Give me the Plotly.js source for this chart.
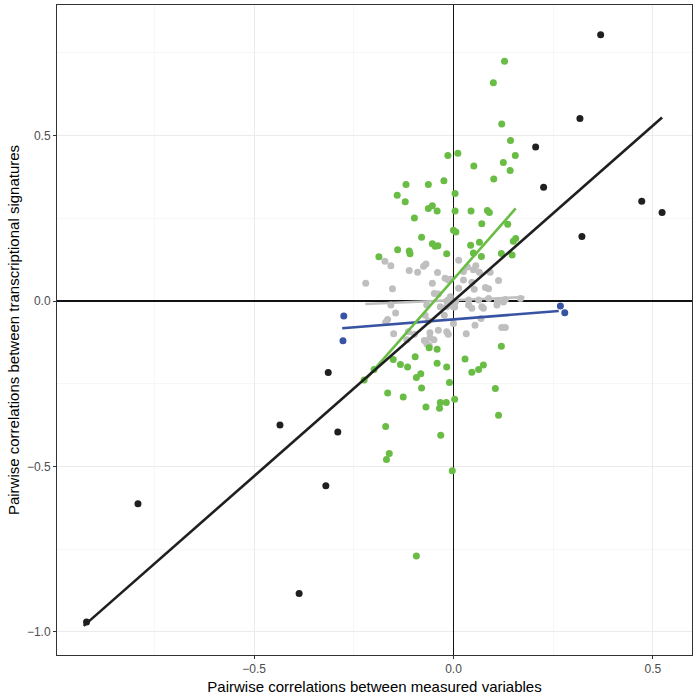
<!DOCTYPE html>
<html>
<head>
<meta charset="utf-8">
<script src="https://cdn.plot.ly/plotly-3.0.1.min.js"></script>
<style>html,body{margin:0;padding:0;background:#fff;}#chart{width:700px;height:700px;}</style>
</head>
<body>
<div id="chart"></div>
<script>
// ---- data ----
const blackX = [-0.92, -0.791, -0.387, -0.435, -0.32, -0.29, -0.314, 0.369, 0.317, 0.206, 0.226, 0.322, 0.472, 0.523];
const blackY = [-0.97, -0.613, -0.884, -0.375, -0.558, -0.396, -0.216, 0.805, 0.552, 0.466, 0.344, 0.195, 0.302, 0.268];

const blueX = [-0.275, -0.277, 0.268, 0.279];
const blueY = [-0.045, -0.12, -0.015, -0.035];

const greenX = [0.128, 0.100, 0.121, 0.143, 0.155, 0.125, 0.142, 0.051, 0.011, -0.014, 0.101, -0.119, -0.063, -0.024,
  0.004, -0.141, -0.121, -0.063, -0.053, -0.041, 0.004, 0.044, 0.085, 0.090, -0.098, 0.071, 0.136, 0.000, 0.006, -0.080,
  0.065, 0.150, 0.156, -0.053, -0.046, -0.039, 0.043, -0.140, -0.111, -0.109, -0.017, 0.050, 0.070, 0.120, 0.147, -0.187,
  0.120, -0.061, -0.041, -0.096, 0.029, -0.151, -0.133, -0.115, -0.041, -0.017, -0.199, 0.075, 0.063, 0.046, -0.082,
  -0.093, -0.224, -0.010, -0.080, 0.105, -0.165, -0.126, 0.003, -0.033, -0.018, -0.069, -0.035, 0.113, -0.170, -0.032,
  -0.161, -0.168, -0.003, -0.093];
const greenY = [0.725, 0.660, 0.535, 0.485, 0.440, 0.419, 0.395, 0.408, 0.447, 0.440, 0.369, 0.352, 0.352, 0.364,
  0.325, 0.320, 0.300, 0.280, 0.288, 0.272, 0.272, 0.272, 0.274, 0.268, 0.251, 0.234, 0.232, 0.214, 0.209, 0.193,
  0.178, 0.181, 0.189, 0.173, 0.166, 0.167, 0.169, 0.155, 0.151, 0.143, 0.143, 0.145, 0.135, 0.144, 0.139, 0.134,
  -0.137, -0.141, -0.146, -0.168, -0.175, -0.177, -0.192, -0.199, -0.188, -0.199, -0.207, -0.193, -0.207, -0.215, -0.220,
  -0.231, -0.239, -0.246, -0.263, -0.264, -0.278, -0.290, -0.297, -0.307, -0.307, -0.320, -0.324, -0.345, -0.379, -0.406,
  -0.461, -0.479, -0.513, -0.771];

const greyX = [-0.172, -0.157, -0.220, -0.153, -0.111, -0.090, -0.075, -0.069, -0.040, -0.053, -0.021, -0.013, -0.048,
  0.013, 0.035, 0.025, 0.056, 0.050, 0.065, 0.092, -0.008, 0.025, 0.046, 0.113, 0.013, 0.052, 0.080, 0.088,
  -0.008, -0.017, 0.005, 0.038, 0.063, 0.088, 0.110, 0.125, 0.130, 0.168, 0.071, 0.109, -0.017,
  -0.157, -0.145, -0.165, -0.170, -0.150, -0.113, -0.098, -0.117, -0.067, -0.063, -0.071, -0.033, -0.023, -0.059,
  -0.038, -0.017, -0.073, -0.059, -0.049, -0.067, -0.061, 0.000, -0.013, 0.032, 0.054, 0.069, 0.075, 0.046, 0.038,
  0.000, 0.121, 0.130, -0.011, 0.003, -0.038];
const greyY = [0.120, 0.107, 0.054, 0.037, 0.092, 0.087, 0.105, 0.112, 0.086, 0.054, 0.069, 0.064, 0.023,
  0.123, 0.103, 0.089, 0.107, 0.095, 0.087, 0.087, 0.066, 0.064, 0.057, 0.062, 0.039, 0.036, 0.041, 0.037,
  0.013, 0.000, -0.002, 0.003, 0.003, 0.008, 0.000, -0.003, 0.005, 0.008, -0.017, -0.012, -0.017,
  -0.012, -0.036, -0.056, -0.064, -0.099, -0.093, -0.100, -0.117, -0.012, -0.060, -0.043, -0.017, -0.043, -0.096,
  -0.088, -0.093, -0.119, -0.111, -0.117, -0.129, -0.134, -0.068, -0.100, -0.099, -0.073, -0.053, -0.022, -0.022, -0.012,
  -0.017, -0.080, -0.080, 0.005, -0.018, 0.021];

// fitted lines (end points)
const blackFitX = [-0.927, 0.523];
const blackFitY = [-0.982, 0.555];
const greenFitX = [-0.226, 0.156];
const greenFitY = [-0.244, 0.280];
const blueFitX = [-0.279, 0.264];
const blueFitY = [-0.082, -0.030];
const greyFitX = [-0.221, 0.178];
const greyFitY = [-0.009, 0.012];

const xTickVals = [-0.5, 0, 0.5];
const xTickText = ['\u22120.5', '0.0', '0.5'];
const yTickVals = [-1, -0.5, 0, 0.5];
const yTickText = ['\u22121.0', '\u22120.5', '0.0', '0.5'];

const cGreen = '#69bd45', cGrey = '#bfbfbf', cBlack = '#1f1f1f', cBlue = '#3953a4';

function pts(x, y, c) {
  return {x: x, y: y, type: 'scatter', mode: 'markers', marker: {color: c, size: 7}, hoverinfo: 'skip'};
}
function fit(x, y, c) {
  return {x: x, y: y, type: 'scatter', mode: 'lines', line: {color: c, width: 2.6}, hoverinfo: 'skip'};
}

const traces = [
  pts(greyX, greyY, cGrey),
  pts(greenX, greenY, cGreen),
  pts(blueX, blueY, cBlue),
  pts(blackX, blackY, cBlack),
  fit(greyFitX, greyFitY, cGrey),
  fit(blueFitX, blueFitY, cBlue),
  fit(greenFitX, greenFitY, cGreen),
  fit(blackFitX, blackFitY, cBlack)
];

const font = 'Liberation Sans, Arial, Helvetica, sans-serif';
const layout = {
  width: 700, height: 700,
  margin: {l: 57, r: 8, t: 5, b: 45},
  paper_bgcolor: '#fff', plot_bgcolor: '#fff',
  showlegend: false,
  font: {family: font},
  xaxis: {
    range: [-0.994, 0.598],
    tickmode: 'array', tickvals: xTickVals, ticktext: xTickText,
    ticks: 'outside', ticklen: 3, tickcolor: '#333', tickwidth: 1,
    tickfont: {size: 12, color: '#4d4d4d', family: font},
    showgrid: true, gridcolor: '#ebebeb', gridwidth: 1,
    minor: {tickmode: 'linear', tick0: 0, dtick: 0.25, showgrid: true, gridcolor: '#f2f2f2', gridwidth: 0.6, ticks: ''},
    zeroline: true, zerolinecolor: '#111', zerolinewidth: 1.3,
    showline: true, mirror: true, linecolor: '#333', linewidth: 1,
    title: {text: 'Pairwise correlations between measured variables', font: {size: 15, color: '#000', family: font}, standoff: 6}
  },
  yaxis: {
    range: [-1.07, 0.895],
    tickmode: 'array', tickvals: yTickVals, ticktext: yTickText,
    ticks: 'outside', ticklen: 3, tickcolor: '#333', tickwidth: 1,
    tickfont: {size: 12, color: '#4d4d4d', family: font},
    showgrid: true, gridcolor: '#ebebeb', gridwidth: 1,
    minor: {tickmode: 'linear', tick0: 0, dtick: 0.25, showgrid: true, gridcolor: '#f2f2f2', gridwidth: 0.6, ticks: ''},
    zeroline: true, zerolinecolor: '#111', zerolinewidth: 1.3,
    showline: true, mirror: true, linecolor: '#333', linewidth: 1,
    title: {text: 'Pairwise correlations between transcriptional signatures', font: {size: 15, color: '#000', family: font}, standoff: 3}
  }
};

Plotly.newPlot('chart', traces, layout, {displayModeBar: false, staticPlot: true});
</script>
</body>
</html>
